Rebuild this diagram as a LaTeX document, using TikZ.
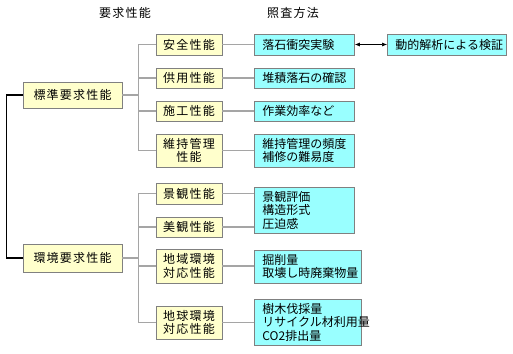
\documentclass[tikz,border=0pt]{standalone}
\usepackage{fontspec}
\setmainfont{Noto Sans CJK JP}
\newfontfamily\jpwide[LetterSpace=10]{Noto Sans CJK JP}
\usepackage{tikz}
\usetikzlibrary{arrows.meta,positioning}
\definecolor{reqfill}{RGB}{255,255,204}
\definecolor{methodfill}{RGB}{153,255,255}
\definecolor{boxline}{RGB}{128,128,128}
\definecolor{linkgray}{RGB}{165,165,165}

\begin{document}
\begin{tikzpicture}[
                x=1pt, y=-1pt,
                font=\fontsize{12}{13.5}\selectfont,
                req/.style={rectangle, draw=boxline, fill=reqfill, line width=0.8pt, align=center,
                        inner sep=0pt, font=\fontsize{12}{13.5}\selectfont\jpwide},
                mainreq/.style={req, minimum width=99pt},
                subreq/.style={req, minimum width=66pt},
                method/.style={rectangle, draw=boxline, fill=methodfill, line width=0.8pt, align=left,
                        inner xsep=8pt, inner ysep=0pt, anchor=west},
                link/.style={draw=linkgray, line width=1.2pt},
                trunk/.style={draw=black, line width=1.5pt},
                biarrow/.style={draw=black, line width=0.6pt,
                        {Latex[length=5pt,width=4pt]}-{Latex[length=5pt,width=4pt]}},
            ]
            \useasboundingbox (0,0) rectangle (513,353);

            % ── Column titles ─────────────────────────────────────
            \node[font=\fontsize{12}{13.5}\selectfont\jpwide] (reqtitle) at (125,13) {要求性能};
            \node[font=\fontsize{12}{13.5}\selectfont\jpwide] (chktitle) at (293,13) {照査方法};

            % ── Top-level requirements ────────────────────────────
            \node[mainreq, minimum height=26pt] (hyojun) at (72.5,95)  {標準要求性能};
            \node[mainreq, minimum height=28pt] (kankyo) at (72.5,258) {環境要求性能};
            \draw[trunk] (hyojun.west) -- ++(-16,0) |- (kankyo.west);

            % ── Standard: sub-requirements ────────────────────────
            \node[subreq, minimum height=21pt] (anzen) at (189,44.5)  {安全性能};
            \node[subreq, minimum height=20pt] (kyoyo) at (189,78)    {供用性能};
            \node[subreq, minimum height=20pt] (seko)  at (189,111)   {施工性能};
            \node[subreq, minimum height=33pt] (iji)   at (189,150.5) {維持管理\\性能};
            \foreach \c in {anzen,kyoyo,seko,iji}
                \draw[link] (hyojun.east) -- ++(16,0) |- (\c.west);

            % ── Standard: checking methods ────────────────────────
            \node[method, text width=84pt, minimum height=21pt] (rakuseki) at (254,44.5)  {落石衝突実験};
            \node[method, text width=84pt, minimum height=20pt] (taiseki)  at (254,78)    {堆積落石の確認};
            \node[method, text width=84pt, minimum height=20pt] (sagyo)    at (254,111)   {作業効率など};
            \node[method, text width=84pt, minimum height=33pt] (ijikanri) at (254,150.5) {維持管理の頻度\\補修の難易度};
            \node[method, text width=103pt, minimum height=21pt] (doteki)  at (387,44.5)  {動的解析による検証};
            \draw[link] (anzen.east) -- (rakuseki.west |- anzen.east);
            \draw[link] (kyoyo.east) -- (taiseki.west |- kyoyo.east);
            \draw[link] (seko.east)  -- (sagyo.west |- seko.east);
            \draw[link] (iji.east)   -- (ijikanri.west |- iji.east);
            \draw[biarrow] (rakuseki.east) -- (doteki.west);

            % ── Environment: sub-requirements ─────────────────────
            \node[subreq, minimum height=21pt] (keikan) at (189,193.5) {景観性能};
            \node[subreq, minimum height=20pt] (bikan)  at (189,227)   {美観性能};
            \node[subreq, minimum height=34pt] (chiiki) at (189,266)   {地域環境\\対応性能};
            \node[subreq, minimum height=33pt] (chikyu) at (189,322.5) {地球環境\\対応性能};
            \foreach \c in {keikan,bikan,chiiki,chikyu}
                \draw[link] (kankyo.east) -- ++(16,0) |- (\c.west);

            % ── Environment: checking methods ─────────────────────
            \node[method, text width=84pt, minimum height=46pt] (keikanhyoka) at (254,210) {景観評価\\構造形式\\圧迫感};
            \node[method, text width=91pt, minimum height=33pt] (kussaku)     at (254,266.5) {掘削量\\取壊し時廃棄物量};
            \node[method, text width=91pt, minimum height=46pt] (jumoku)      at (254,322) {樹木伐採量\\リサイクル材利用量\\CO2排出量};
            \draw[link] (keikan.east) -- (keikanhyoka.west |- keikan.east);
            \draw[link] (bikan.east)  -- (keikanhyoka.west |- bikan.east);
            \draw[link] (chiiki.east) -- (kussaku.west |- chiiki.east);
            \draw[link] (chikyu.east) -- (jumoku.west |- chikyu.east);
        \end{tikzpicture}
\end{document}
